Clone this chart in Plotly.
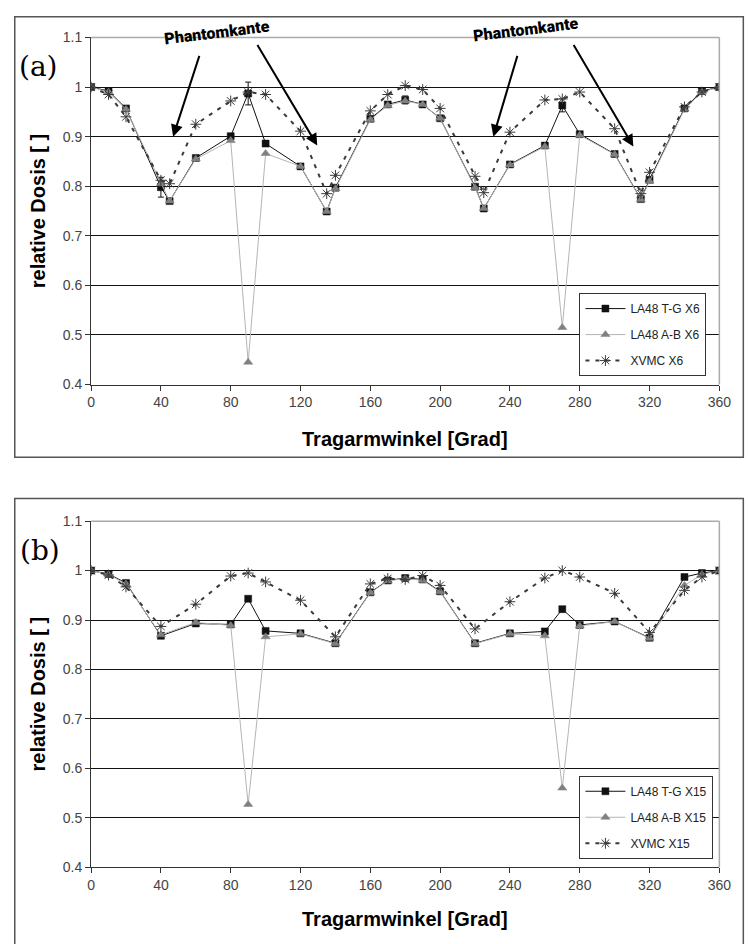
import plotly.graph_objects as go

# ---------------- data ----------------
ang_a = [0, 10, 20, 40, 45, 60, 80, 90, 100, 120, 135, 140, 160, 170, 180, 190, 200,
         220, 225, 240, 260, 270, 280, 300, 315, 320, 340, 350, 360]
tg_a = [1.0, 0.992, 0.957, 0.798, 0.77, 0.857, 0.901, 0.987, 0.886, 0.84, 0.749, 0.797, 0.936,
        0.965, 0.974, 0.965, 0.937, 0.799, 0.755, 0.844, 0.882, 0.963, 0.905, 0.865, 0.774,
        0.813, 0.957, 0.992, 1.0]
tg_a_err = [None, None, None, 0.02, None, None, None, 0.023, None, None, None, None, None,
            None, 0.008, None, None, None, None, None, None, 0.013, None, None, None,
            None, None, None, None]
ab_a = [1.0, 0.99, 0.955, 0.805, 0.77, 0.855, 0.892, 0.445, 0.866, 0.84, 0.749, 0.795, 0.934,
        0.963, 0.972, 0.965, 0.937, 0.797, 0.755, 0.843, 0.88, 0.515, 0.903, 0.864, 0.773,
        0.81, 0.955, 0.99, 1.0]
xv_a = [1.0, 0.985, 0.94, 0.812, 0.805, 0.925, 0.972, 0.99, 0.985, 0.911, 0.785, 0.822, 0.952,
        0.985, 1.003, 0.995, 0.957, 0.82, 0.787, 0.909, 0.974, 0.976, 0.99, 0.916, 0.785,
        0.828, 0.96, 0.99, 1.0]

ang_b = [0, 10, 20, 40, 60, 80, 90, 100, 120, 140, 160, 170, 180, 190, 200,
         220, 240, 260, 270, 280, 300, 320, 340, 350, 360]
tg_b = [1.0, 0.993, 0.975, 0.868, 0.893, 0.891, 0.943, 0.878, 0.873, 0.853, 0.956,
        0.98, 0.985, 0.982, 0.958, 0.853, 0.873, 0.877, 0.922, 0.89, 0.897, 0.864,
        0.987, 0.995, 1.0]
ab_b = [1.0, 0.992, 0.973, 0.87, 0.895, 0.889, 0.527, 0.866, 0.872, 0.852, 0.955,
        0.979, 0.984, 0.98, 0.957, 0.852, 0.872, 0.868, 0.56, 0.888, 0.897, 0.863,
        0.97, 0.992, 1.0]
xv_b = [1.0, 0.991, 0.967, 0.887, 0.932, 0.989, 0.995, 0.977, 0.94, 0.866, 0.973,
        0.984, 0.982, 0.99, 0.97, 0.882, 0.937, 0.985, 1.0, 0.987, 0.954, 0.875,
        0.96, 0.987, 1.0]

names_a = ["LA48 T-G X6", "LA48 A-B X6", "XVMC X6"]
names_b = ["LA48 T-G X15", "LA48 A-B X15", "XVMC X15"]
x_ticks = [0, 40, 80, 120, 160, 200, 240, 280, 320, 360]
y_ticks = [0.4, 0.5, 0.6, 0.7, 0.8, 0.9, 1.0, 1.1]
y_ticktext = ["0.4", "0.5", "0.6", "0.7", "0.8", "0.9", "1", "1.1"]

# ---------------- figure ----------------
W, H = 748, 944
fig = go.Figure()

FONT = "Arial"


def add_panel(ax, ay, ang, tg, ab, xv, names, legend, err=None):
    tg_kw = {}
    if err is not None:
        tg_kw["error_y"] = dict(type="data", array=err, visible=True,
                                color="#111", thickness=1, width=3)
    fig.add_trace(go.Scatter(
        x=ang, y=tg, name=names[0], mode="lines+markers", xaxis=ax, yaxis=ay,
        legend=legend, legendgroup=legend + "1",
        line=dict(color="#111", width=1),
        marker=dict(symbol="square", size=7, color="#111",
                    line=dict(color="#111", width=0.5)), **tg_kw))
    fig.add_trace(go.Scatter(
        x=ang, y=ab, name=names[1], mode="lines+markers", xaxis=ax, yaxis=ay,
        legend=legend, legendgroup=legend + "2",
        line=dict(color="#b4b4b4", width=1),
        marker=dict(symbol="triangle-up", size=8, color="#808080",
                    line=dict(color="#808080", width=0.5))))
    fig.add_trace(go.Scatter(
        x=ang, y=xv, name=names[2], mode="lines+markers", xaxis=ax, yaxis=ay,
        legend=legend, legendgroup=legend + "3",
        line=dict(color="#3a3a3a", width=2, dash="4px,6px"),
        marker=dict(symbol="asterisk-open", size=9, color="#3a3a3a",
                    line=dict(color="#3a3a3a", width=1))))


add_panel("x", "y", ang_a, tg_a, ab_a, xv_a, names_a, "legend", tg_a_err)
add_panel("x2", "y2", ang_b, tg_b, ab_b, xv_b, names_b, "legend2")

xd = [89 / W, 731 / W]
yd_a = [1 - 383 / H, 1 - 30 / H]
yd_b = [1 - 874 / H, 1 - 522 / H]

xaxis_kw = dict(range=[0, 360], tickvals=x_ticks, ticks="outside", ticklen=5,
                tickcolor="#333", showline=True, linecolor="#333", linewidth=1,
                showgrid=False, zeroline=False, mirror=False,
                tickfont=dict(family=FONT, size=14, color="#444"))
yaxis_kw = dict(range=[0.4, 1.1], tickvals=y_ticks, ticktext=y_ticktext,
                ticks="outside", ticklen=5, tickcolor="#333",
                showline=True, linecolor="#333", linewidth=1,
                showgrid=True, gridcolor="#111", gridwidth=1, zeroline=False,
                tickfont=dict(family=FONT, size=14, color="#444"))

legend_kw = dict(bgcolor="white", bordercolor="#333", borderwidth=1,
                 font=dict(family=FONT, size=12, color="#222"),
                 xanchor="left", yanchor="top", tracegroupgap=7,
                 itemwidth=40)

fig.update_layout(
    width=W, height=H, margin=dict(l=0, r=0, t=0, b=0),
    paper_bgcolor="white", plot_bgcolor="white",
    xaxis=dict(domain=xd, anchor="y", **xaxis_kw),
    yaxis=dict(domain=yd_a, anchor="x", **yaxis_kw),
    xaxis2=dict(domain=xd, anchor="y2", **xaxis_kw),
    yaxis2=dict(domain=yd_b, anchor="x2", **yaxis_kw),
    legend=dict(x=588 / W, y=1 - 290 / H, **legend_kw),
    legend2=dict(x=588 / W, y=1 - 781 / H, **legend_kw),
    showlegend=True,
)

shapes = []
# outer frames (left, top, bottom; right runs off the page)
for top, bot in [(9, 457), (499, 960)]:
    shapes.append(dict(type="rect", xref="paper", yref="paper",
                       x0=11 / W, x1=1.01, y0=1 - bot / H, y1=1 - top / H,
                       line=dict(color="#555", width=1.5), layer="below"))
# plot area borders (top/right light gray)
for xr, yr in [("x", "y"), ("x2", "y2")]:
    shapes.append(dict(type="line", xref=xr + " domain", yref=yr + " domain",
                       x0=1, x1=1, y0=0, y1=1, line=dict(color="#aaa", width=1.5)))
    shapes.append(dict(type="line", xref=xr + " domain", yref=yr + " domain",
                       x0=0, x1=1, y0=1, y1=1, line=dict(color="#aaa", width=1.5)))
fig.update_layout(shapes=shapes)

SERIF = "DejaVu Serif"
ann = []
# panel labels
ann.append(dict(text="(a)", xref="paper", yref="paper", x=35 / W, y=1 - 60 / H,
                xanchor="center", yanchor="middle",
                showarrow=False, font=dict(family=SERIF, size=28, color="black")))
ann.append(dict(text="(b)", xref="paper", yref="paper", x=37 / W, y=1 - 552 / H,
                xanchor="center", yanchor="middle",
                showarrow=False, font=dict(family=SERIF, size=28, color="black")))
# axis titles
for yr_top, yr_bot, xt_y in [(30, 383, 438), (522, 874, 927)]:
    ann.append(dict(text="<b>relative Dosis [ ]</b>", xref="paper", yref="paper",
                    x=35 / W, y=1 - (yr_top + yr_bot) / 2 / H, textangle=-90, showarrow=False,
                    xanchor="center", yanchor="middle",
                    font=dict(family=FONT, size=20, color="black")))
    ann.append(dict(text="<b>Tragarmwinkel [Grad]</b>", xref="paper", yref="paper",
                    x=410 / W, y=1 - xt_y / H, showarrow=False,
                    xanchor="center", yanchor="middle",
                    font=dict(family=FONT, size=20, color="black")))
# Phantomkante labels and arrows (panel a)
for tx, ty in [(72, 1.015), (249, 1.022)]:
    ann.append(dict(text="Phantomkante", x=tx, y=ty, xref="x", yref="y domain",
                    showarrow=False, textangle=-7, xanchor="center", yanchor="middle",
                    font=dict(family="Roboto", weight=900, size=16, color="black")))
arrows = [((47, 0.90), (62.3, 1.066)), ((129.6, 0.882), (94.8, 1.088)),
          ((230.5, 0.90), (244.5, 1.066)), ((310.7, 0.88), (276, 1.088))]
for (hx, hy), (tx, ty) in arrows:
    ann.append(dict(text="", x=hx, y=hy, ax=tx, ay=ty, xref="x", yref="y",
                    axref="x", ayref="y", showarrow=True, arrowhead=2,
                    arrowsize=1.2, arrowwidth=2, arrowcolor="black"))
fig.update_layout(annotations=ann)

fig.write_html("out.html")
